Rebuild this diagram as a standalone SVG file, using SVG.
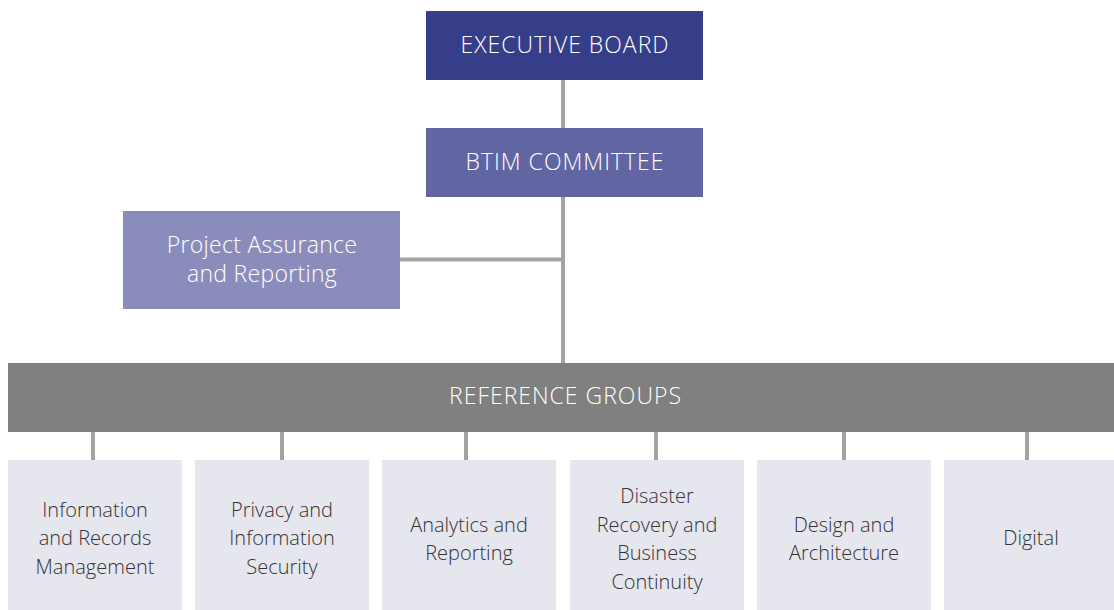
<svg xmlns="http://www.w3.org/2000/svg" width="1114" height="610" viewBox="0 0 1114 610">
<style>
.ln{stroke:#a3a3a3;stroke-width:4;fill:none}
.t{font-family:"Open Sans","Liberation Sans",sans-serif;font-weight:300;text-anchor:middle}
.w{fill:#ffffff;font-size:23px}
.u{letter-spacing:1px}
.m{letter-spacing:0.3px}
.d{fill:#333333;font-size:20px}
.sb{fill:#e6e6ef}
</style>
<rect width="1114" height="610" fill="#ffffff"/>
<g id="connectors">
<line class="ln" x1="563" y1="80" x2="563" y2="363"/>
<line class="ln" x1="400" y1="259.5" x2="563" y2="259.5"/>
<line class="ln" x1="93" y1="432" x2="93" y2="460"/>
<line class="ln" x1="282" y1="432" x2="282" y2="460"/>
<line class="ln" x1="466" y1="432" x2="466" y2="460"/>
<line class="ln" x1="656" y1="432" x2="656" y2="460"/>
<line class="ln" x1="844" y1="432" x2="844" y2="460"/>
<line class="ln" x1="1027" y1="432" x2="1027" y2="460"/>
</g>
<g id="executive-board">
<rect x="426" y="11" width="277" height="69" fill="#363e8a"/>
<text class="t w u" x="565" y="53">EXECUTIVE BOARD</text>
</g>
<g id="btim-committee">
<rect x="426" y="128" width="277" height="69" fill="#6166a3"/>
<text class="t w u" x="565" y="170">BTIM COMMITTEE</text>
</g>
<g id="project-assurance">
<rect x="123" y="211" width="277" height="98" fill="#8a8dbb"/>
<text class="t w m" x="262" y="253">Project Assurance</text>
<text class="t w m" x="262" y="281.5">and Reporting</text>
</g>
<g id="reference-groups">
<rect x="8" y="363" width="1106" height="69" fill="#808080"/>
<text class="t w u" x="565.5" y="404">REFERENCE GROUPS</text>
</g>
<g id="information-records">
<rect class="sb" x="8" y="460" width="174" height="150"/>
<text class="t d" x="95" y="516.5">Information</text>
<text class="t d" x="95" y="545">and Records</text>
<text class="t d" x="95" y="574">Management</text>
</g>
<g id="privacy-security">
<rect class="sb" x="195" y="460" width="174" height="150"/>
<text class="t d" x="282" y="516.5">Privacy and</text>
<text class="t d" x="282" y="545">Information</text>
<text class="t d" x="282" y="574">Security</text>
</g>
<g id="analytics-reporting">
<rect class="sb" x="382" y="460" width="174" height="150"/>
<text class="t d" x="469" y="531.5">Analytics and</text>
<text class="t d" x="469" y="560">Reporting</text>
</g>
<g id="disaster-recovery">
<rect class="sb" x="570" y="460" width="174" height="150"/>
<text class="t d" x="657" y="503">Disaster</text>
<text class="t d" x="657" y="531.5">Recovery and</text>
<text class="t d" x="657" y="560">Business</text>
<text class="t d" x="657" y="588.5">Continuity</text>
</g>
<g id="design-architecture">
<rect class="sb" x="757" y="460" width="174" height="150"/>
<text class="t d" x="844" y="531.5">Design and</text>
<text class="t d" x="844" y="560">Architecture</text>
</g>
<g id="digital">
<rect class="sb" x="944" y="460" width="174" height="150"/>
<text class="t d" x="1031" y="545">Digital</text>
</g>
</svg>
